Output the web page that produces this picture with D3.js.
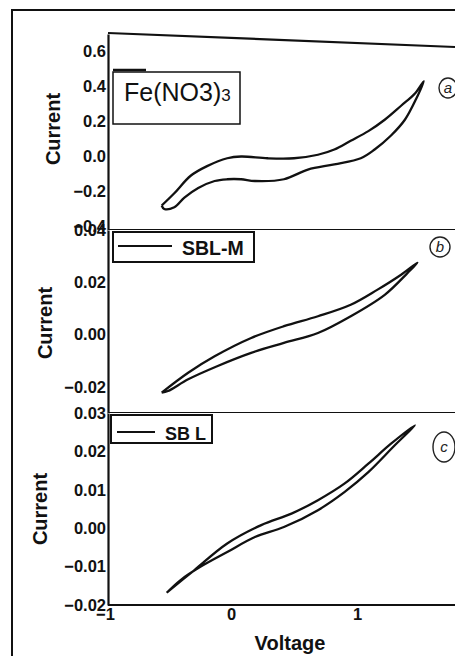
<!DOCTYPE html>
<html>
<head>
<meta charset="utf-8">
<script src="https://cdn.jsdelivr.net/npm/d3@7/dist/d3.min.js"></script>
<style>
  body { margin: 0; background: #fff; }
  svg { display: block; }
  text { font-family: "Liberation Sans", Arial, sans-serif; }
</style>
</head>
<body>
<div id="chart"></div>
<script>
// cyclic voltammetry loops
const feVoltage = [-0.55, -0.45, -0.32, -0.19, -0.03, 0.08, 0.29, 0.50, 0.69, 0.82, 0.95, 1.09, 1.22, 1.35, 1.46, 1.53,
                   1.47, 1.38, 1.27, 1.14, 1.03, 0.82, 0.61, 0.42, 0.19, 0.08, -0.03, -0.13, -0.26, -0.37, -0.45, -0.53, -0.55];
const feCurrent = [-0.28, -0.21, -0.11, -0.055, -0.01, 0.00, -0.01, -0.01, 0.01, 0.04, 0.09, 0.145, 0.21, 0.29, 0.36, 0.43,
                   0.33, 0.21, 0.12, 0.04, -0.01, -0.045, -0.075, -0.13, -0.14, -0.13, -0.13, -0.14, -0.18, -0.235, -0.29, -0.30, -0.28];

const sblmVoltage = [-0.55, -0.34, -0.13, 0.16, 0.42, 0.69, 0.95, 1.16, 1.35, 1.48,
                     1.40, 1.22, 0.95, 0.69, 0.42, 0.16, -0.11, -0.34, -0.50, -0.55];
const sblmCurrent = [-0.0222, -0.0146, -0.0083, -0.0013, 0.0032, 0.0070, 0.0114, 0.0171, 0.0229, 0.0275,
                     0.0235, 0.0152, 0.0070, 0.0006, -0.0032, -0.0070, -0.0121, -0.0171, -0.0216, -0.0222];

const sblVoltage = [-0.51, -0.29, -0.03, 0.24, 0.48, 0.69, 0.90, 1.09, 1.27, 1.46,
                    1.30, 1.09, 0.90, 0.69, 0.42, 0.19, -0.03, -0.24, -0.40, -0.51];
const sblCurrent = [-0.0168, -0.0109, -0.0040, 0.0008, 0.0038, 0.0073, 0.0116, 0.0168, 0.0220, 0.0268,
                    0.0216, 0.0146, 0.0094, 0.0047, 0.0003, -0.0023, -0.0062, -0.0100, -0.0135, -0.0168];

const feTicks = [0.6, 0.4, 0.2, 0.0, -0.2, -0.4];
const sblmTicks = [0.04, 0.02, 0.00, -0.02];
const sblTicks = [0.03, 0.02, 0.01, 0.00, -0.01, -0.02];
const voltageTicks = [-1, 0, 1];

const W = 455, H = 656;
const svg = d3.select("#chart").append("svg").attr("width", W).attr("height", H);

// outer frame of the scanned figure
svg.append("path").attr("d", `M12,${H} L12,10 L${W},10`)
  .attr("fill", "none").attr("stroke", "#111").attr("stroke-width", 2);

const x = d3.scaleLinear().domain([-1, 2]).range([105, 483]);

const panels = [
  { v: feVoltage, c: feCurrent, ticks: feTicks, fmt: d3.format(".1f"), domain: [-0.42, 0.7], top: 34, bottom: 230, labelX: 53, labelY: 129 },
  { v: sblmVoltage, c: sblmCurrent, ticks: sblmTicks, fmt: d3.format(".2f"), domain: [-0.03, 0.04], top: 230, bottom: 413, labelX: 45, labelY: 323 },
  { v: sblVoltage, c: sblCurrent, ticks: sblTicks, fmt: d3.format(".2f"), domain: [-0.02, 0.03], top: 413, bottom: 605, labelX: 40, labelY: 509 }
];

panels.forEach(p => {
  const y = d3.scaleLinear().domain(p.domain).range([p.bottom, p.top]);

  svg.append("rect").attr("x", 108).attr("y", p.top).attr("width", W - 108).attr("height", p.bottom - p.top)
    .attr("fill", "#fff");

  const ax = svg.append("g").attr("transform", "translate(108,0)")
    .call(d3.axisLeft(y).tickValues(p.ticks).tickFormat(p.fmt).tickSize(0).tickPadding(2));
  ax.select(".domain").attr("stroke", "#111").attr("stroke-width", 2.2);
  ax.selectAll("text").attr("font-size", 16.5).attr("font-weight", "bold").attr("fill", "#111");

  svg.append("line").attr("x1", 108).attr("x2", W).attr("y1", p.bottom).attr("y2", p.bottom)
    .attr("stroke", "#111").attr("stroke-width", 2.2);

  const line = d3.line().x(d => x(d[0])).y(d => y(d[1])).curve(d3.curveCatmullRom.alpha(0.5));
  svg.append("path").datum(d3.zip(p.v, p.c))
    .attr("fill", "none").attr("stroke", "#111").attr("stroke-width", 2.3)
    .attr("stroke-linejoin", "round").attr("d", line);

  svg.append("text")
    .attr("transform", `translate(${p.labelX},${p.labelY}) rotate(-90)`)
    .attr("text-anchor", "middle").attr("dominant-baseline", "central")
    .attr("font-size", 20).attr("font-weight", "bold").attr("fill", "#111")
    .text("Current");
});

// top edge of panel a is skewed in the scan
svg.append("line").attr("x1", 108).attr("y1", 33).attr("x2", W).attr("y2", 47)
  .attr("stroke", "#111").attr("stroke-width", 2.2);

// voltage axis
const xa = svg.append("g").attr("transform", "translate(0,605)")
  .call(d3.axisBottom(x).tickValues(voltageTicks).tickFormat(d3.format("d")).tickSize(0).tickPadding(3));
xa.select(".domain").remove();
xa.selectAll("text").attr("font-size", 16.5).attr("font-weight", "bold").attr("fill", "#111");

svg.append("text").attr("x", 290).attr("y", 650).attr("text-anchor", "middle")
  .attr("font-size", 20).attr("font-weight", "bold").attr("fill", "#111").text("Voltage");

// legends
const lg = svg.append("g");
lg.append("line").attr("x1", 113).attr("x2", 146).attr("y1", 70).attr("y2", 70).attr("stroke", "#111").attr("stroke-width", 2.5);
lg.append("rect").attr("x", 113).attr("y", 72).attr("width", 127).attr("height", 52)
  .attr("fill", "#fff").attr("stroke", "#111").attr("stroke-width", 1.5);
const fe = lg.append("text").attr("x", 124).attr("y", 101)
  .attr("font-family", "Lato, 'Open Sans', sans-serif").attr("font-size", 25).attr("fill", "#111");
fe.append("tspan").text("Fe(NO3)");
fe.append("tspan").attr("font-size", 17).text("3");

lg.append("rect").attr("x", 113).attr("y", 232).attr("width", 141).attr("height", 30)
  .attr("fill", "#fff").attr("stroke", "#111").attr("stroke-width", 2);
lg.append("line").attr("x1", 118).attr("x2", 172).attr("y1", 246).attr("y2", 246).attr("stroke", "#111").attr("stroke-width", 2);
lg.append("text").attr("x", 182).attr("y", 255).attr("font-size", 19.5).attr("font-weight", "bold").attr("fill", "#111").text("SBL-M");

lg.append("rect").attr("x", 111).attr("y", 415).attr("width", 101).attr("height", 28)
  .attr("fill", "#fff").attr("stroke", "#111").attr("stroke-width", 2);
lg.append("line").attr("x1", 117).attr("x2", 155).attr("y1", 432).attr("y2", 432).attr("stroke", "#111").attr("stroke-width", 2);
lg.append("text").attr("x", 165).attr("y", 440).attr("font-size", 18).attr("font-weight", "bold").attr("fill", "#111").text("SB L");

// handwritten panel marks
const marks = [
  { t: "a", cx: 448, cy: 88, rx: 9, ry: 10 },
  { t: "b", cx: 440, cy: 247, rx: 10, ry: 10 },
  { t: "c", cx: 444, cy: 447, rx: 11, ry: 15 }
];
marks.forEach(m => {
  svg.append("ellipse").attr("cx", m.cx).attr("cy", m.cy).attr("rx", m.rx).attr("ry", m.ry)
    .attr("fill", "none").attr("stroke", "#222").attr("stroke-width", 1.4);
  svg.append("text").attr("x", m.cx).attr("y", m.cy + 5).attr("text-anchor", "middle")
    .attr("font-family", "'DejaVu Serif', serif").attr("font-style", "italic")
    .attr("font-size", 15).attr("fill", "#222").text(m.t);
});
</script>
</body>
</html>
